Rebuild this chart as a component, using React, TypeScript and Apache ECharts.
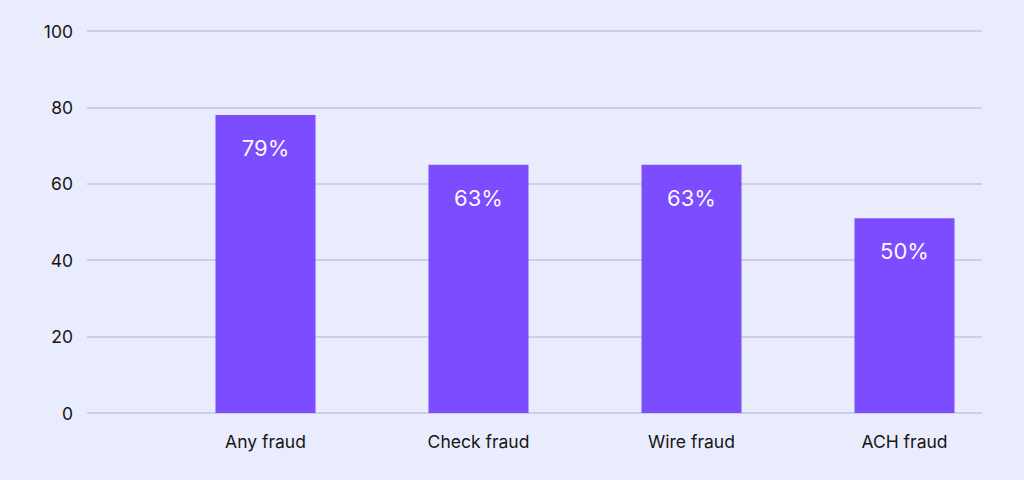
import { useEffect, useRef } from "react";
import * as echarts from "echarts";

const categories = ["Any fraud", "Check fraud", "Wire fraud", "ACH fraud"];
const barValues = [78, 65, 65, 51];
const barLabels = ["79%", "63%", "63%", "50%"];
const yTicks = [0, 20, 40, 60, 80, 100];

const FONT = "Inter, 'Liberation Sans', sans-serif";

const App = () => {
  const chartRef = useRef<HTMLDivElement>(null);

  useEffect(() => {
    if (!chartRef.current) return;
    const chart = echarts.init(chartRef.current, null, { renderer: "svg" });

    const option: echarts.EChartsOption = {
      animation: false,
      backgroundColor: "#E9ECFC",
      grid: [
        // bars
        { left: 159, right: 13, top: 31, bottom: 67 },
        // gridlines + y labels
        { left: 87, right: 42, top: 31, bottom: 67 },
      ],
      xAxis: [
        {
          type: "category",
          gridIndex: 0,
          data: categories,
          axisLine: { show: false },
          axisTick: { show: false },
          axisLabel: {
            color: "#151515",
            fontSize: 17.5,
            fontFamily: FONT,
            margin: 19,
          },
        },
        {
          type: "value",
          gridIndex: 1,
          show: false,
        },
      ],
      yAxis: [
        {
          type: "value",
          gridIndex: 0,
          min: 0,
          max: 100,
          interval: 20,
          show: false,
        },
        {
          type: "value",
          gridIndex: 1,
          min: yTicks[0],
          max: yTicks[yTicks.length - 1],
          interval: 20,
          axisLine: { show: false },
          axisTick: { show: false },
          axisLabel: {
            color: "#151515",
            fontSize: 17.5,
            fontFamily: FONT,
            margin: 14,
          },
          splitLine: {
            lineStyle: { color: "#C4C6DC", width: 1.5 },
          },
        },
      ],
      series: [
        {
          type: "bar",
          xAxisIndex: 0,
          yAxisIndex: 0,
          data: barValues,
          barWidth: 100,
          itemStyle: { color: "#7847FF", opacity: 0.97 },
          label: {
            show: true,
            position: "insideTop",
            distance: 22,
            color: "#FFFFFF",
            fontSize: 22,
            fontFamily: FONT,
            formatter: (p: any) => barLabels[p.dataIndex],
          },
          z: 3,
        },
      ],
    };

    chart.setOption(option);
    return () => chart.dispose();
  }, []);

  return (
    <div
      ref={chartRef}
      style={{ position: "fixed", left: 0, top: 0, width: 1024, height: 480 }}
    />
  );
};

export default App;
